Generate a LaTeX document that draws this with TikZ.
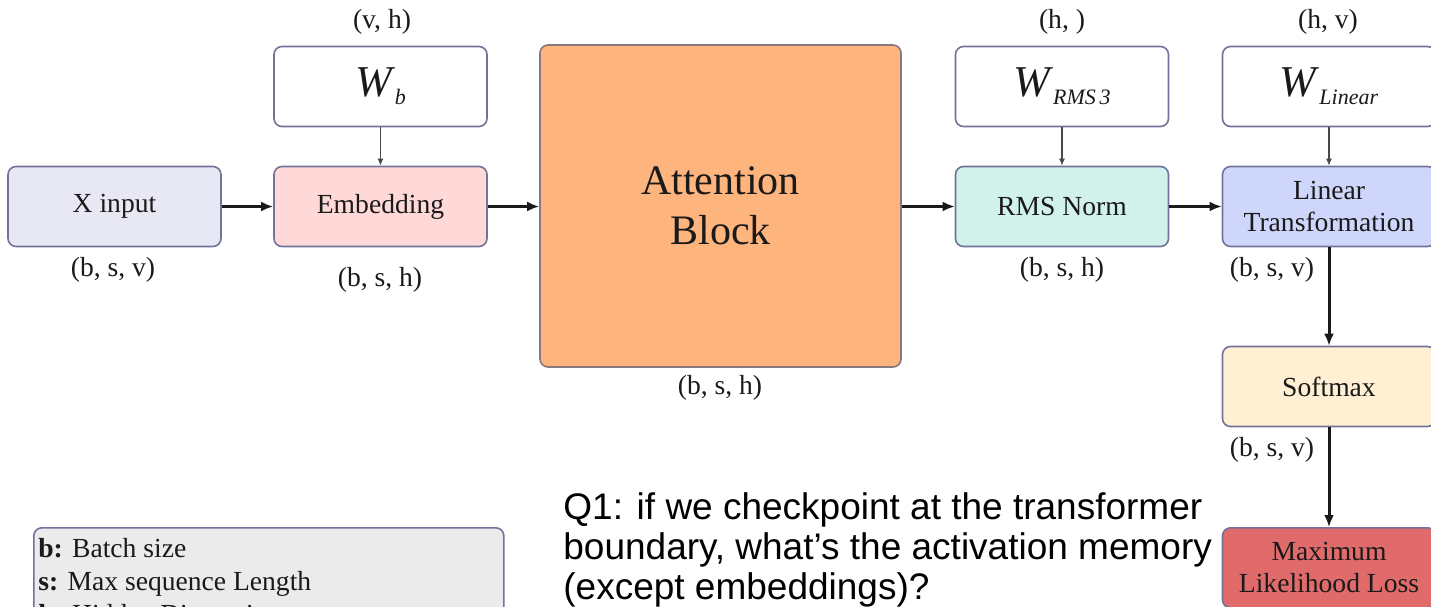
\documentclass[tikz,border=0pt]{standalone}
\usepackage{fontspec}
\setmainfont{Liberation Serif}
\newfontfamily\qfont{Liberation Sans}
\usetikzlibrary{arrows.meta}
\definecolor{edgec}{HTML}{72729A}
\definecolor{txtc}{HTML}{1A1A1A}
\definecolor{inc}{HTML}{E8E8F5}
\definecolor{embc}{HTML}{FFD8D8}
\definecolor{attc}{HTML}{FDB47D}
\definecolor{rmsc}{HTML}{D0F2EA}
\definecolor{linc}{HTML}{CFD6FB}
\definecolor{softc}{HTML}{FFEFD3}
\definecolor{lossc}{HTML}{E16B6B}
\definecolor{legc}{HTML}{EBEBEB}
\newcommand{\wsym}[1]{{\fontsize{22}{22}\selectfont\itshape W}\hspace{1.5pt}\raisebox{-4pt}{\fontsize{11}{11}\selectfont\itshape #1}}
\begin{document}
\begin{tikzpicture}[x=0.5pt,y=-0.5pt,
  box/.style={draw=edgec, line width=0.8pt, rounded corners=4pt, inner sep=0pt,
    minimum width=106.5pt, minimum height=40pt, text=txtc, align=center,
    font=\fontsize{13.8}{16}\selectfont},
  lbl/.style={inner sep=0pt, text=txtc, font=\fontsize{13.8}{16}\selectfont},
  thick arrow/.style={-{Latex[length=6pt,width=5pt]}, line width=1.5pt, draw=txtc},
  thin arrow/.style={-{Latex[length=3.5pt,width=3pt]}, line width=0.6pt, draw=txtc!80}]
\useasboundingbox (0,0) rectangle (1431,606);
\clip (0,0) rectangle (1431,606);

% main chain
\node[box, fill=inc] (xin) at (114.5,206.5) {X input};
\node[box, fill=embc] (emb) at (380.5,206.5) {Embedding};
\node[box, fill=attc, draw=edgec!70!brown, minimum width=180.5pt, minimum height=161pt,
      font=\fontsize{21}{25}\selectfont] (att) at (720.5,206) {Attention\\Block};
\node[box, fill=rmsc] (rms) at (1062,206.5) {RMS Norm};
\node[box, fill=linc] (lin) at (1329,206.5) {Linear\\Transformation};
\node[box, fill=softc] (soft) at (1329,386.5) {Softmax};
\node[box, fill=lossc, anchor=north] (loss) at (1329,527) {Maximum\\Likelihood Loss};

% weights
\node[box, fill=white] (wb) at (380.5,86.5) {\wsym{b}};
\node[box, fill=white] (wrms) at (1062,86.5) {\wsym{RMS\,3}};
\node[box, fill=white] (wlin) at (1329,86.5) {\wsym{Linear}};

% shape labels
\node[lbl] (swb) at (382,22) {(v, h)};
\node[lbl] (swrms) at (1062,22) {(h, )};
\node[lbl] (swlin) at (1328,22) {(h, v)};
\node[lbl] (sxin) at (113,270) {(b, s, v)};
\node[lbl] (semb) at (380,280) {(b, s, h)};
\node[lbl] (satt) at (720,388) {(b, s, h)};
\node[lbl] (srms) at (1062,270) {(b, s, h)};
\node[lbl] (slin) at (1272,270) {(b, s, v)};
\node[lbl] (ssoft) at (1272,450) {(b, s, v)};

% connectors
\draw[thick arrow] (xin) -- (emb);
\draw[thick arrow] (emb) -- (emb -| att.west);
\draw[thick arrow] (att.east |- rms) -- (rms);
\draw[thick arrow] (rms) -- (lin);
\draw[thick arrow] (lin) -- (soft);
\draw[thick arrow] (soft) -- (loss);
\draw[thin arrow] (wb) -- (emb);
\draw[thin arrow] (wrms) -- (rms);
\draw[thin arrow] (wlin) -- (lin);

% legend
\node[box, fill=legc, anchor=north west, minimum width=235pt, minimum height=55pt] (leg) at (33,527) {};
\node[lbl, anchor=north west, align=left, font=\fontsize{13.8}{16.5}\selectfont] (legtxt) at (38,538)
  {\textbf{b:} Batch size\\\textbf{s:} Max sequence Length\\\textbf{h:} Hidden Dimension};

% question
\node[inner sep=0pt, anchor=north west, align=left, font=\qfont\fontsize{18.5}{20}\selectfont] (q1) at (563,492)
  {Q1: if we checkpoint at the transformer\\boundary, what’s the activation memory\\(except embeddings)?};
\end{tikzpicture}
\end{document}
